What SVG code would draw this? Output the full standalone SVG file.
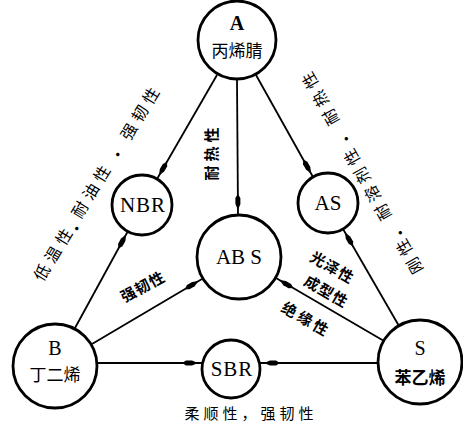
<svg xmlns="http://www.w3.org/2000/svg" width="463" height="426" viewBox="0 0 463 426">
<style>
.node{fill:#fff;stroke:#000;stroke-width:2.8}
.edge{stroke:#000;stroke-width:1.8;fill:none;marker-end:url(#arr)}
.lat{font-family:"Liberation Serif","Noto Serif",serif;fill:#000;text-anchor:middle}
.cjk{font-family:"Noto Sans CJK SC","Noto Sans",sans-serif;fill:#000;text-anchor:middle}
.lbl{font-family:"Noto Sans CJK SC","Noto Sans",sans-serif;fill:#000;text-anchor:middle;font-size:15px}
.bold{font-weight:bold}
.side{font-family:"Noto Sans CJK SC","Noto Sans",sans-serif;fill:#000;text-anchor:middle;font-size:16px;letter-spacing:5px}
</style>
<defs>
<marker id="arr" viewBox="0 0 16 7" refX="20" refY="3.5" markerWidth="16" markerHeight="7" markerUnits="userSpaceOnUse" orient="auto">
<path d="M0,3.5 L4,1 L10,1 L16,3.5 L10,6 L4,6 Z" fill="#000"/>
</marker>
</defs>
<g id="connectors">
<line class="edge" x1="217" y1="75" x2="157" y2="179"/>
<line class="edge" x1="75" y1="328" x2="128" y2="231"/>
<line class="edge" x1="237" y1="80" x2="238" y2="214"/>
<line class="edge" x1="256" y1="75" x2="313" y2="177"/>
<line class="edge" x1="399" y1="326" x2="343" y2="229"/>
<line class="edge" x1="92" y1="344" x2="202" y2="279"/>
<line class="edge" x1="384" y1="341" x2="276" y2="278"/>
<line class="edge" x1="98" y1="363" x2="202" y2="363"/>
<line class="edge" x1="378" y1="363" x2="260" y2="363"/>
</g>
<g id="A">
<circle class="node" cx="237" cy="40" r="39"/>
<text class="lat" x="237" y="30" font-size="20" font-weight="bold">A</text>
<text class="cjk" x="237" y="57" font-size="17">丙烯腈</text>
</g>
<g id="B">
<circle class="node" cx="55" cy="366" r="42"/>
<text class="lat" x="55" y="355" font-size="20">B</text>
<text class="cjk" x="55" y="381" font-size="17">丁二烯</text>
</g>
<g id="S">
<circle class="node" cx="420" cy="362" r="42"/>
<text class="lat" x="420" y="355" font-size="20">S</text>
<text class="cjk bold" x="420" y="384" font-size="17">苯乙烯</text>
</g>
<g id="NBR">
<circle class="node" cx="142" cy="205" r="30"/>
<text class="lat" x="143" y="212" font-size="21" letter-spacing="1">NBR</text>
</g>
<g id="AS">
<circle class="node" cx="328" cy="203" r="30"/>
<text class="lat" x="328" y="210" font-size="21">AS</text>
</g>
<g id="ABS">
<circle class="node" cx="239" cy="257" r="42"/>
<text class="lat" x="239" y="264" font-size="21" xml:space="preserve">AB S</text>
</g>
<g id="SBR">
<circle class="node" cx="231" cy="369" r="29"/>
<text class="lat" x="232" y="376" font-size="21" letter-spacing="1">SBR</text>
</g>
<g id="labels">
<text class="lbl bold" transform="translate(212,152) rotate(-90)" y="5" letter-spacing="4">耐热性</text>
<text class="lbl bold" transform="translate(143,287) rotate(-28)" y="5" letter-spacing="1">强韧性</text>
<text class="lbl bold" transform="translate(332,268) rotate(30)" y="5" letter-spacing="1">光泽性</text>
<text class="lbl bold" transform="translate(326,292) rotate(30)" y="5" letter-spacing="1">成型性</text>
<text class="lbl bold" transform="translate(306,320) rotate(30)" y="5" letter-spacing="3">绝缘性</text>
<text class="cjk" x="251" y="419" font-size="15" letter-spacing="4">柔顺性，强韧性</text>
<text class="side" transform="translate(55,253) rotate(-58.5)" y="5">低温性</text>
<text class="side" transform="translate(79,227) rotate(-58.5)" y="5">·</text>
<text class="side" transform="translate(93,190) rotate(-58.5)" y="5">耐油性</text>
<text class="side" transform="translate(120,153) rotate(-58.5)" y="5">·</text>
<text class="side" transform="translate(142,112) rotate(-58.5)" y="5">强韧性</text>
<text class="side" transform="translate(409,254) rotate(-119.5)" y="5">刚性</text>
<text class="side" transform="translate(400,230) rotate(-119.5)" y="5">·</text>
<text class="side" transform="translate(367,182) rotate(-119.5)" y="5">耐溶剂性</text>
<text class="side" transform="translate(346,136) rotate(-119.5)" y="5">·</text>
<text class="side" transform="translate(320,96) rotate(-119.5)" y="5">耐热性</text>
</g>
</svg>
